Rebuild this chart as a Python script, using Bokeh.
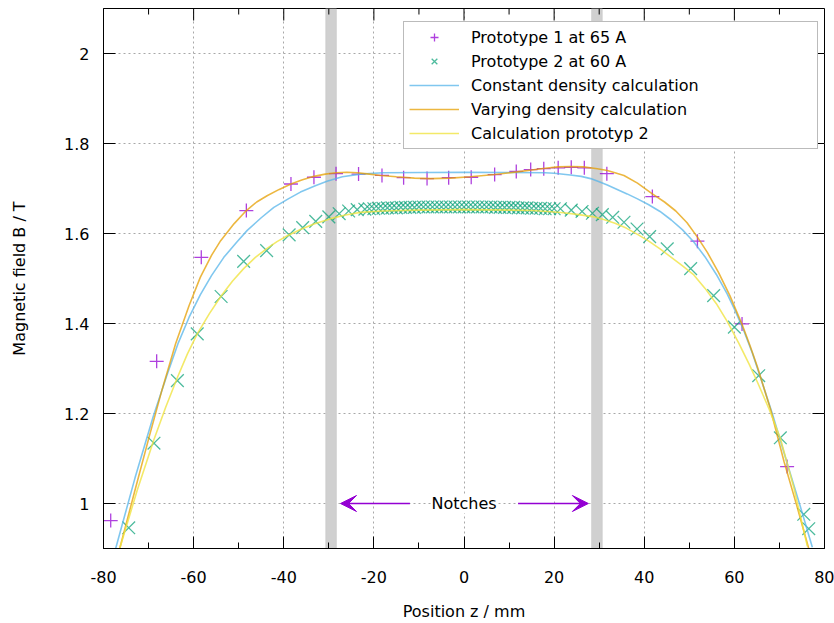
from bokeh.plotting import figure
from bokeh.models import (Range1d, FixedTicker, NumeralTickFormatter,
                          BoxAnnotation, Arrow, VeeHead, Label, Legend, LegendItem)
from bokeh.embed import file_html
from bokeh.resources import INLINE

# ---------------- data ----------------
p1_x = [-78.4, -68.2, -58.3, -48.3, -38.4, -33.3, -28.4, -23.4, -18.2, -13.4, -8.2, -3.4,
        1.6, 6.8, 11.6, 14.8, 17.7, 20.9, 23.8, 26.7, 31.7, 41.8, 51.8, 61.7, 71.7]
p1_y = [0.962, 1.316, 1.547, 1.651, 1.710, 1.725, 1.733, 1.732, 1.729, 1.724, 1.722, 1.724,
        1.725, 1.731, 1.738, 1.742, 1.744, 1.746, 1.747, 1.746, 1.733, 1.682, 1.583, 1.399, 1.082]

p2_x = [-74.4, -68.8, -63.6, -59.2, -53.9, -48.9, -43.8, -38.8, -35.8, -32.9, -30.0, -27.7,
        -25.6, -23.7,
        -22, -21, -20, -19, -18, -17, -16, -15, -14, -13, -12, -11, -10, -9, -8, -7, -6, -5,
        -4, -3, -2, -1, 0, 1, 2, 3, 4, 5, 6, 7, 8, 9, 10, 11, 12, 13, 14, 15, 16, 17, 18, 19, 20,
        21.4, 23.8, 26.2, 28.5, 30.7, 33.0, 35.5, 38.4, 41.2, 45.1, 50.3, 55.4, 60.0, 65.4,
        70.2, 75.4, 76.5]
p2_y = [0.946, 1.134, 1.273, 1.377, 1.460, 1.538, 1.562, 1.597, 1.613, 1.627, 1.637, 1.644,
        1.650, 1.653,
        1.654, 1.655, 1.655, 1.656, 1.656, 1.657, 1.657, 1.657, 1.658, 1.658, 1.658, 1.658,
        1.659, 1.659, 1.659, 1.659, 1.659, 1.659, 1.659, 1.659, 1.659, 1.659, 1.659, 1.659,
        1.659, 1.659, 1.659, 1.659, 1.659, 1.658, 1.658, 1.658, 1.658, 1.658, 1.657, 1.657,
        1.657, 1.656, 1.656, 1.656, 1.655, 1.655, 1.655,
        1.655, 1.652, 1.649, 1.645, 1.642, 1.636, 1.625, 1.610, 1.593, 1.566, 1.522, 1.462,
        1.392, 1.284, 1.146, 0.976, 0.944]

const_x = [-77.3, -73.0, -69.0, -66.0, -63.4, -61.0, -58.5, -56.0, -53.3, -50.5, -48.1, -45.0,
           -42.2, -39.0, -36.3, -33.0, -30.4, -27.0, -23.0, -18.0, 0.0, 18.0, 20.0, 23.6, 26.0,
           28.1, 30.0, 31.8, 34.0, 36.2, 38.5, 41.0, 43.5, 46.0, 48.5, 51.0, 53.5, 56.0, 58.4,
           60.2, 62.1, 64.0, 65.8, 68.5, 71.7, 74.5, 77.3]
const_y = [0.900, 1.057, 1.192, 1.283, 1.357, 1.414, 1.464, 1.507, 1.547, 1.580, 1.607, 1.635,
           1.658, 1.677, 1.692, 1.706, 1.716, 1.726, 1.732, 1.735, 1.736, 1.735, 1.734, 1.730,
           1.727, 1.722, 1.715, 1.708, 1.698, 1.688, 1.677, 1.664, 1.649, 1.630, 1.608, 1.581,
           1.548, 1.509, 1.466, 1.428, 1.384, 1.334, 1.280, 1.197, 1.090, 0.998, 0.903]

vary_x = [-76.4, -73.0, -70.0, -67.0, -64.0, -61.0, -58.5, -56.0, -54.0, -51.0, -48.3, -46.0,
          -43.7, -41.0, -38.4, -36.0, -33.3, -30.8, -28.4, -26.0, -23.6, -21.0, -18.5, -15.0,
          -11.0, -7.4, -3.0, 1.4, 6.8, 11.8, 15.0, 18.0, 20.9, 23.6, 26.5, 29.6, 31.8, 33.5,
          35.5, 38.5, 41.8, 44.5, 47.0, 49.5, 51.8, 54.0, 56.5, 59.0, 61.7, 63.5, 65.1, 68.0,
          71.0, 73.8, 76.5]
vary_y = [0.900, 1.030, 1.143, 1.253, 1.355, 1.440, 1.503, 1.552, 1.584, 1.622, 1.651, 1.670,
          1.684, 1.698, 1.710, 1.719, 1.727, 1.732, 1.735, 1.736, 1.735, 1.732, 1.729, 1.726,
          1.723, 1.722, 1.723, 1.726, 1.731, 1.737, 1.741, 1.745, 1.748, 1.749, 1.748, 1.744,
          1.740, 1.735, 1.729, 1.712, 1.688, 1.670, 1.650, 1.624, 1.592, 1.558, 1.513, 1.462,
          1.398, 1.350, 1.304, 1.210, 1.094, 0.997, 0.900]

calc2_x = [-76.4, -72.5, -68.8, -66.2, -63.6, -61.4, -59.2, -56.5, -53.9, -51.4, -48.9, -46.3,
           -43.7, -41.5, -39.2, -36.3, -33.3, -29.6, -26.3, -23.0, -18.0, -10.0, 0.0, 10.0,
           15.0, 18.5, 22.1, 25.5, 28.8, 31.0, 33.5, 36.0, 38.5, 41.0, 43.5, 46.0, 48.5, 51.0,
           53.5, 56.0, 58.5, 61.0, 63.3, 65.1, 67.7, 70.2, 73.2, 76.2]
calc2_y = [0.900, 1.030, 1.142, 1.214, 1.280, 1.332, 1.377, 1.422, 1.461, 1.494, 1.522, 1.547,
           1.567, 1.582, 1.595, 1.609, 1.621, 1.633, 1.641, 1.647, 1.650, 1.652, 1.653, 1.652,
           1.651, 1.649, 1.646, 1.642, 1.637, 1.631, 1.623, 1.612, 1.598, 1.583, 1.566, 1.547,
           1.528, 1.508, 1.478, 1.444, 1.403, 1.356, 1.309, 1.270, 1.210, 1.145, 1.035, 0.905]

notch_left = [-30.7, 28.3]
notch_right = [-28.3, 30.7]
arrow_tail = [-12.0, 12.0]
arrow_head = [-27.4, 27.6]
arrow_y = 1.0

x_ticks = [-80, -60, -40, -20, 0, 20, 40, 60, 80]
x_minor = [-70, -50, -30, -10, 10, 30, 50, 70]
y_ticks = [1.0, 1.2, 1.4, 1.6, 1.8, 2.0]

# ---------------- styling ----------------
FONT = "DejaVu Sans"
FS = "16px"
PURPLE = "#9400d3"
GREEN = "#009e73"
BLUE = "#56b4e9"
ORANGE = "#e69f00"
YELLOW = "#f0e442"
FRAME_W, FRAME_H = 721, 540
MAJOR_TICK, MINOR_TICK = 12, 6

p = figure(frame_width=FRAME_W, frame_height=FRAME_H, output_backend="svg", toolbar_location=None,
           x_range=Range1d(-80, 80), y_range=Range1d(0.9, 2.1),
           min_border_left=103, min_border_right=10, min_border_top=8, min_border_bottom=60,
           x_axis_label="Position z / mm", y_axis_label="Magnetic field B / T")
p.outline_line_color = "black"
p.outline_line_width = 1
p.background_fill_color = "white"

xt = FixedTicker(ticks=x_ticks, minor_ticks=x_minor)
yt = FixedTicker(ticks=y_ticks, minor_ticks=[])

for ax in p.xaxis:
    ax.ticker = xt
    ax.formatter = NumeralTickFormatter(format="0")
    ax.major_label_standoff = 22
    ax.axis_label_standoff = 16
for ax in p.yaxis:
    ax.ticker = yt
    ax.formatter = NumeralTickFormatter(format="0.[0]")
    ax.major_label_standoff = 14
    ax.axis_label_standoff = 32

for ax in list(p.xaxis) + list(p.yaxis):
    ax.major_tick_in = MAJOR_TICK
    ax.major_tick_out = 0
    ax.minor_tick_in = MINOR_TICK
    ax.minor_tick_out = 0
    ax.axis_line_color = "black"
    ax.major_tick_line_color = "black"
    ax.minor_tick_line_color = "black"
    ax.major_label_text_font = FONT
    ax.major_label_text_font_size = FS
    ax.major_label_text_color = "black"
    ax.axis_label_text_font = FONT
    ax.axis_label_text_font_size = FS
    ax.axis_label_text_font_style = "normal"
    ax.axis_label_text_color = "black"

for g in (p.xgrid[0], p.ygrid[0]):
    g.grid_line_color = "#a8a8a8"
    g.grid_line_dash = "2 3"
    g.grid_line_width = 1
p.xgrid[0].ticker = xt
p.ygrid[0].ticker = yt

# mirrored inward ticks on the top and right border
xr, yr = p.x_range, p.y_range
dy_per_px = (yr.end - yr.start) / FRAME_H
dx_per_px = (xr.end - xr.start) / FRAME_W
p.segment(x0=x_ticks, y0=[yr.end] * len(x_ticks), x1=x_ticks,
          y1=[yr.end - MAJOR_TICK * dy_per_px] * len(x_ticks), line_color="black", line_width=1)
p.segment(x0=x_minor, y0=[yr.end] * len(x_minor), x1=x_minor,
          y1=[yr.end - MINOR_TICK * dy_per_px] * len(x_minor), line_color="black", line_width=1)
p.segment(x0=[xr.end] * len(y_ticks), y0=y_ticks, x1=[xr.end - MAJOR_TICK * dx_per_px] * len(y_ticks),
          y1=y_ticks, line_color="black", line_width=1)

# notches
for l, r in zip(notch_left, notch_right):
    p.add_layout(BoxAnnotation(left=l, right=r, fill_color="#d0d0d0", fill_alpha=1.0,
                               line_color="#b4b4b4", line_width=1, level="underlay"))

# data
r1 = p.scatter(p1_x, p1_y, marker="cross", size=14, line_color=PURPLE, line_width=1.3, line_alpha=0.75)
r2 = p.scatter(p2_x, p2_y, marker="x", size=18, line_color=GREEN, line_width=1.3, line_alpha=0.7)
r3 = p.line(const_x, const_y, line_color=BLUE, line_width=1.6, line_alpha=0.75)
r4 = p.line(vary_x, vary_y, line_color=ORANGE, line_width=1.6, line_alpha=0.75)
r5 = p.line(calc2_x, calc2_y, line_color=YELLOW, line_width=1.6, line_alpha=0.8)

# notches annotation
p.add_layout(Label(x=0, y=arrow_y, text="Notches", text_align="center", text_baseline="middle",
                   text_font=FONT, text_font_size=FS, text_color="black",
                   background_fill_color="white"))
for t, h in zip(arrow_tail, arrow_head):
    p.add_layout(Arrow(x_start=t, y_start=arrow_y, x_end=h, y_end=arrow_y,
                       line_color=PURPLE, line_width=1.5,
                       end=VeeHead(size=16, fill_color=PURPLE, line_color=PURPLE, line_width=1)))

legend = Legend(items=[
    LegendItem(label="Prototype 1 at 65 A", renderers=[r1]),
    LegendItem(label="Prototype 2 at 60 A", renderers=[r2]),
    LegendItem(label="Constant density calculation", renderers=[r3]),
    LegendItem(label="Varying density calculation", renderers=[r4]),
    LegendItem(label="Calculation prototyp 2", renderers=[r5]),
], location=(300, 399))
legend.label_text_font = FONT
legend.label_text_font_size = FS
legend.label_text_color = "black"
legend.border_line_color = "#777777"
legend.border_line_width = 1
legend.background_fill_alpha = 1.0
legend.padding = 5
legend.spacing = 4
legend.glyph_width = 50
legend.glyph_height = 20
legend.label_height = 20
legend.label_standoff = 12
legend.label_width = 341
legend.margin = 0
p.add_layout(legend, "center")

open("out.html", "w").write(file_html(p, INLINE))
